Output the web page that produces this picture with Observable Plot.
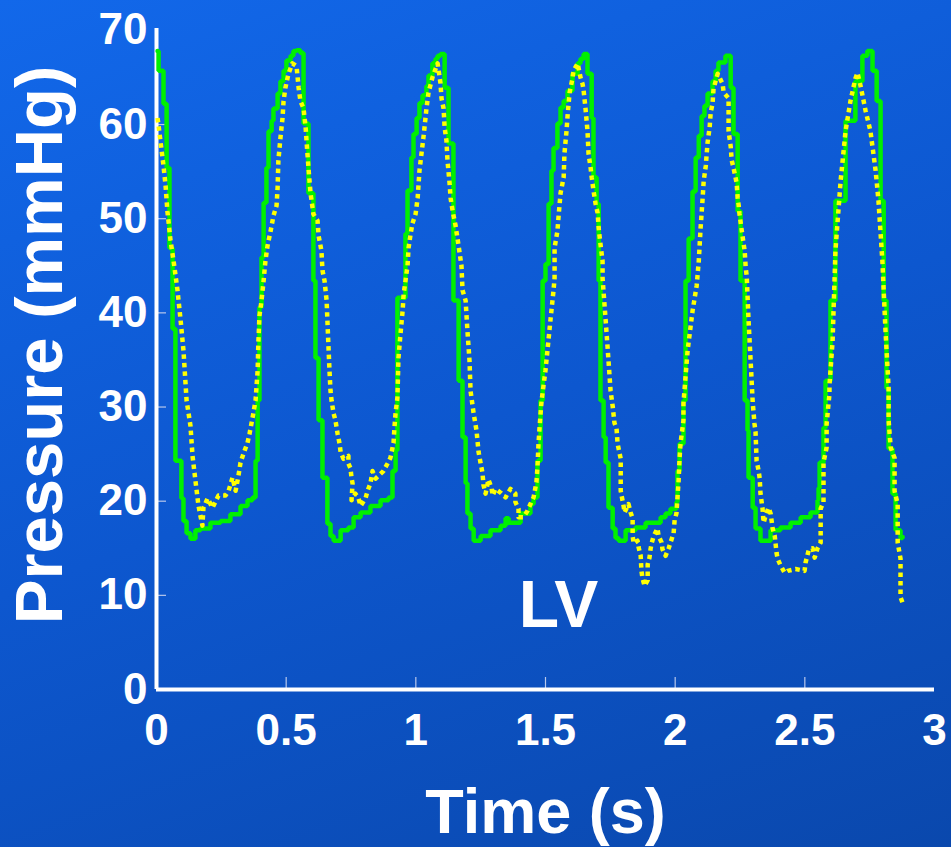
<!DOCTYPE html>
<html>
<head>
<meta charset="utf-8">
<script src="https://cdn.jsdelivr.net/npm/d3@7"></script>
<script src="https://cdn.jsdelivr.net/npm/@observablehq/plot@0.6"></script>
<style>
  html, body { margin: 0; padding: 0; }
  body {
    width: 951px; height: 847px; overflow: hidden;
    background: linear-gradient(160deg, #1268ea 0%, #0d57cf 50%, #0a48ad 100%);
    font-family: "Liberation Sans", Arial, sans-serif;
  }
  #chart svg { display: block; }
</style>
</head>
<body>
<div id="chart"></div>
<script>
// ---- tick labels ----
const xTicks = [0, 0.5, 1, 1.5, 2, 2.5, 3];
const yTicks = [0, 10, 20, 30, 40, 50, 60, 70];
const xInnerTicks = [0.5, 1, 1.5, 2, 2.5];
const yInnerTicks = [10, 20, 30, 40, 50, 60];
const xTitle = ["Time (s)"];
const yTitle = ["Pressure (mmHg)"];
const chamberLabel = ["LV"];
const chamberX = [1.55];
const chamberY = [8.9];

// ---- green series (stepped trace) ----
const greenTime = [
  0.004, 0.008, 0.027, 0.039, 0.050, 0.062, 0.073, 0.096, 0.104, 0.116, 0.131, 0.150, 0.170, 0.208, 0.247, 0.285, 0.324, 0.351, 0.370,
  0.382, 0.390, 0.397, 0.405, 0.413, 0.424, 0.432, 0.444, 0.451, 0.467, 0.478, 0.490, 0.501, 0.517, 0.528, 0.540,
  0.555, 0.567, 0.586, 0.605, 0.613, 0.625, 0.640, 0.659, 0.671, 0.683,
  0.710, 0.740, 0.760, 0.787, 0.825, 0.864, 0.895, 0.910, 0.922, 0.929, 0.960, 0.968, 0.983, 0.991, 1.003, 1.014, 1.026, 1.041, 1.049, 1.064, 1.076, 1.084, 1.095,
  1.111, 1.126, 1.145, 1.165, 1.180, 1.192, 1.199, 1.211, 1.223,
  1.250, 1.288, 1.327, 1.346, 1.358, 1.404, 1.442, 1.454, 1.469, 1.481, 1.489, 1.500, 1.512, 1.523, 1.531, 1.546, 1.558, 1.570, 1.585, 1.604, 1.624, 1.635, 1.647,
  1.662, 1.678, 1.685, 1.697, 1.705, 1.712, 1.724, 1.732, 1.743, 1.759, 1.770, 1.782,
  1.809, 1.847, 1.886, 1.944, 1.963, 1.982, 2.005, 2.009, 2.017, 2.032, 2.040, 2.052, 2.067, 2.079, 2.091, 2.102, 2.113, 2.125, 2.144, 2.156, 2.167, 2.194,
  2.214, 2.225, 2.241, 2.252, 2.268, 2.279, 2.283, 2.299, 2.310, 2.329,
  2.368, 2.406, 2.445, 2.484, 2.522, 2.549, 2.553, 2.557, 2.572, 2.580, 2.599, 2.618, 2.657, 2.695, 2.722, 2.741,
  2.761, 2.777, 2.792, 2.804, 2.815, 2.823, 2.838, 2.850, 2.869, 2.877
];
const greenPressure = [
  67.8, 65.7, 62.2, 55.4, 46.9, 38.3, 24.3, 20.3, 17.9, 16.6, 16.0, 16.9, 17.1, 17.7, 17.9, 18.6, 19.5, 20.1, 20.4,
  24.3, 30.7, 40.6, 45.9, 51.7, 55.4, 59.3, 60.4, 61.7, 63.3, 64.6, 65.7, 66.8, 67.3, 67.8, 67.9,
  67.6, 60.1, 52.7, 43.4, 35.2, 28.6, 22.5, 17.6, 16.3, 15.8,
  16.9, 17.2, 18.3, 18.8, 19.5, 20.1, 20.4, 23.2, 25.4, 41.6, 48.4, 53.0, 56.5, 59.0, 60.7, 62.3, 63.1, 64.1, 65.2, 66.5, 67.0, 67.3, 67.5,
  63.9, 58.0, 41.3, 32.8, 26.8, 21.9, 18.7, 17.1, 15.8,
  16.3, 16.9, 17.4, 18.2, 17.7, 18.7, 19.7, 20.4, 24.3, 30.7, 43.4, 45.2, 51.6, 55.1, 57.5, 60.1, 61.8, 62.5, 63.6, 65.4, 66.5, 67.0, 67.5,
  65.4, 60.7, 54.4, 51.6, 43.4, 30.7, 26.8, 24.1, 19.3, 17.1, 16.1, 15.8,
  16.9, 17.2, 17.7, 18.3, 18.7, 19.2, 19.9, 23.2, 26.1, 30.7, 43.4, 47.9, 52.9, 56.5, 58.8, 60.9, 62.0, 63.3, 64.6, 65.7, 66.6, 67.3,
  63.9, 59.0, 50.8, 43.4, 30.7, 27.5, 22.5, 19.3, 17.1, 15.8,
  16.9, 17.2, 17.7, 18.3, 18.8, 20.1, 21.4, 24.1, 27.8, 32.8, 41.3, 51.9, 60.4, 64.6, 67.3, 67.8,
  65.7, 62.5, 51.9, 41.3, 32.0, 25.6, 20.8, 16.9, 16.1, 16.2
];

// ---- yellow series (dotted trace) ----
const yellowTime = [
  0.004, 0.008, 0.015, 0.027, 0.035, 0.042, 0.054, 0.066, 0.081, 0.093, 0.104, 0.116, 0.131, 0.139, 0.150, 0.162, 0.177,
  0.181, 0.197, 0.216, 0.239, 0.266, 0.278, 0.293, 0.305, 0.316, 0.324, 0.336, 0.351, 0.359, 0.370, 0.382, 0.390, 0.393, 0.397,
  0.405, 0.413, 0.420, 0.428, 0.440, 0.451, 0.463, 0.467, 0.470, 0.478, 0.486, 0.490, 0.497, 0.509, 0.524, 0.540,
  0.548, 0.555, 0.567, 0.575, 0.582, 0.586, 0.594, 0.605, 0.621, 0.625, 0.636, 0.640, 0.648, 0.656, 0.659, 0.663, 0.667, 0.671, 0.675,
  0.683, 0.690, 0.698, 0.706, 0.710, 0.721, 0.740, 0.740, 0.748, 0.752, 0.756, 0.752, 0.767, 0.779, 0.787, 0.806, 0.814, 0.825, 0.833,
  0.845, 0.856, 0.875, 0.891, 0.902, 0.914, 0.918, 0.922, 0.929, 0.933, 0.941, 0.949, 0.953, 0.960, 0.968, 0.972, 0.980, 0.987, 0.999,
  1.007, 1.014, 1.030, 1.041, 1.049, 1.064, 1.076, 1.084,
  1.095, 1.099, 1.107, 1.111, 1.118, 1.122, 1.130, 1.134, 1.142, 1.153, 1.165, 1.176, 1.180, 1.192, 1.199, 1.207, 1.211, 1.223, 1.234,
  1.242, 1.250, 1.257, 1.261, 1.269, 1.280, 1.292, 1.296, 1.307, 1.327, 1.346, 1.354, 1.365, 1.384, 1.384, 1.396, 1.396, 1.415, 1.431,
  1.442, 1.454, 1.465, 1.469, 1.473, 1.477, 1.481, 1.485, 1.500, 1.519, 1.531,
  1.535, 1.535, 1.546, 1.550, 1.558, 1.570, 1.573, 1.581, 1.585, 1.593, 1.604, 1.608, 1.624,
  1.635, 1.643, 1.647, 1.654, 1.662, 1.666, 1.674, 1.678, 1.685, 1.693, 1.701, 1.705, 1.712, 1.720, 1.720, 1.732, 1.743, 1.751,
  1.759, 1.766, 1.774, 1.778, 1.790, 1.790, 1.801, 1.805, 1.820, 1.828, 1.836, 1.836, 1.840, 1.855, 1.859, 1.867, 1.870, 1.874, 1.882,
  1.894, 1.894, 1.901, 1.905, 1.909, 1.917, 1.932, 1.936, 1.948, 1.951, 1.963, 1.975, 1.982, 1.994, 1.998, 2.005, 2.009, 2.013, 2.017,
  2.021, 2.032, 2.032, 2.048, 2.067, 2.083,
  2.091, 2.098, 2.106, 2.110, 2.118, 2.125, 2.133, 2.137, 2.144, 2.148, 2.156, 2.164,
  2.171, 2.183, 2.187, 2.206, 2.206, 2.214, 2.218, 2.225, 2.237, 2.241, 2.245, 2.248, 2.256, 2.264, 2.268, 2.272, 2.276, 2.283, 2.291,
  2.299, 2.306, 2.310, 2.314, 2.322, 2.326, 2.329, 2.337, 2.341, 2.349, 2.360, 2.368, 2.376, 2.384, 2.391, 2.395, 2.406, 2.422, 2.434,
  2.464, 2.499, 2.503, 2.515, 2.530, 2.538, 2.549, 2.561, 2.561, 2.572, 2.572, 2.584, 2.584, 2.595, 2.595,
  2.607, 2.618, 2.638, 2.657, 2.676, 2.695, 2.703,
  2.715, 2.734, 2.753, 2.773, 2.784, 2.799, 2.811, 2.823, 2.823, 2.831, 2.846, 2.846, 2.858, 2.858, 2.869, 2.869, 2.881
];
const yellowPressure = [
  60.7, 59.9, 58.3, 55.6, 53.5, 50.8, 47.7, 45.5, 42.4, 39.2, 36.0, 30.7, 28.0, 24.8, 22.2, 19.5, 17.4,
  19.3, 20.3, 19.3, 20.6, 20.6, 21.1, 22.5, 21.1, 22.7, 24.1, 25.1, 26.2, 27.2, 28.8, 30.7, 33.9, 37.0, 39.7,
  41.3, 43.4, 45.5, 47.1, 48.7, 50.3, 51.4, 53.3, 56.2, 58.6, 60.7, 62.5, 63.9, 65.4, 66.5, 66.2,
  63.9, 62.5, 61.7, 59.7, 56.9, 55.4, 52.7, 50.5, 49.8, 48.2, 46.6, 44.5, 43.4, 41.3, 39.2, 36.5, 33.9, 31.7, 30.7,
  29.3, 28.6, 27.2, 26.1, 25.2, 24.5, 24.8, 24.0, 23.5, 22.5, 21.9, 20.1, 20.8, 20.3, 19.5, 20.3, 21.1, 21.9, 23.2,
  22.4, 22.7, 23.2, 24.0, 24.6, 26.2, 28.0, 29.4, 31.0, 35.2, 37.8, 40.2, 42.0, 43.4, 45.0, 46.9, 48.4, 49.5, 50.5,
  52.2, 55.1, 58.8, 61.7, 63.4, 65.0, 65.9, 66.5,
  64.4, 62.8, 61.7, 59.7, 58.3, 56.2, 53.8, 52.2, 50.8, 49.3, 47.1, 45.0, 42.4, 41.3, 38.1, 34.9, 31.7, 29.3, 27.5,
  25.2, 24.0, 23.0, 21.7, 20.8, 22.3, 21.4, 20.6, 21.3, 20.9, 20.4, 20.8, 21.3, 20.8, 19.9, 19.2, 18.3, 18.3, 19.0,
  19.7, 20.4, 22.0, 23.6, 26.1, 27.8, 29.3, 30.7, 33.9, 39.2, 42.4,
  43.7, 46.9, 48.7, 50.1, 52.7, 54.4, 56.9, 59.3, 60.9, 63.4, 64.9, 65.7, 66.5,
  65.0, 64.3, 63.6, 61.8, 59.3, 56.9, 55.4, 54.4, 53.0, 51.6, 50.6, 49.0, 47.3, 45.5, 43.7, 39.2, 34.9, 31.7,
  30.1, 28.3, 27.7, 26.1, 24.5, 21.1, 19.5, 18.8, 19.7, 18.8, 18.2, 16.3, 15.5, 15.8, 15.1, 14.2, 12.6, 11.8, 11.0,
  11.6, 13.3, 14.0, 14.9, 15.5, 16.3, 17.1, 16.3, 15.6, 14.9, 14.2, 15.0, 15.6, 16.6, 18.0, 18.7, 20.4, 22.0, 24.6,
  26.2, 28.6, 30.4, 36.0, 40.2, 42.9,
  45.5, 49.0, 52.2, 54.0, 55.6, 58.1, 59.7, 61.3, 62.2, 63.8, 64.6, 65.4,
  65.0, 64.3, 63.4, 62.8, 59.3, 57.7, 56.2, 55.4, 53.8, 52.2, 51.4, 50.5, 48.9, 47.3, 46.6, 44.8, 43.9, 39.2, 34.9,
  30.5, 28.2, 27.3, 24.3, 23.2, 22.4, 20.8, 19.2, 17.7, 18.5, 19.3, 18.7, 17.1, 16.3, 14.5, 13.9, 13.2, 12.4, 12.6,
  12.8, 12.6, 13.5, 14.8, 15.0, 14.0, 15.0, 15.6, 19.2, 19.9, 24.1, 25.7, 28.2, 31.4, 32.3,
  37.0, 46.6, 54.0, 59.3, 62.5, 64.9, 65.5,
  64.1, 61.5, 59.3, 55.1, 51.9, 45.5, 38.1, 32.1, 28.6, 25.7, 24.6, 21.1, 19.7, 15.6, 13.9, 9.8, 8.9
];

const font = "'Liberation Sans', Arial, Helvetica, sans-serif";

const chart = Plot.plot({
  width: 951,
  height: 847,
  marginLeft: 156,
  marginRight: 17,
  marginTop: 28,
  marginBottom: 158,
  x: {domain: [0, 3]},
  y: {domain: [0, 70.2]},
  style: {background: "transparent", color: "white", fontFamily: font, overflow: "visible"},
  marks: [
    // inner tick marks
    Plot.axisX(xInnerTicks, {anchor: "bottom", tickSize: 12, dy: -12, text: null, stroke: "#b9c8ec", strokeWidth: 1.2}),
    Plot.axisY(yInnerTicks, {anchor: "left", tickSize: 10, dx: 10, text: null, stroke: "#b9c8ec", strokeWidth: 1.2}),
    // tick labels
    Plot.axisX(xTicks, {anchor: "bottom", tickSize: 0, tickPadding: 24, label: null, tickFormat: d => String(d),
      fontSize: 44, fontWeight: "bold", fill: "white", fontFamily: font}),
    Plot.axisY(yTicks, {anchor: "left", tickSize: 0, tickPadding: 9, label: null, tickFormat: d => String(d),
      fontSize: 44, fontWeight: "bold", fill: "white", fontFamily: font}),
    // axis lines
    Plot.ruleY([0], {stroke: "white", strokeWidth: 4}),
    Plot.ruleX([0], {stroke: "white", strokeWidth: 4}),
    // traces
    Plot.line(greenPressure, {x: greenTime, y: greenPressure, curve: "step-after",
      stroke: "#00f000", strokeWidth: 4.5, strokeLinejoin: "miter"}),
    Plot.line(yellowPressure, {x: yellowTime, y: yellowPressure,
      stroke: "#ffff00", strokeWidth: 4.5, strokeDasharray: "4.5,4", strokeLinecap: "butt"}),
    // titles & label
    Plot.text(chamberLabel, {x: chamberX, y: chamberY, text: d => d, fill: "white",
      fontSize: 66, fontWeight: "bold", fontFamily: font, lineAnchor: "middle"}),
    Plot.text(xTitle, {frameAnchor: "bottom", text: d => d, dy: 123, fill: "white",
      fontSize: 63, fontWeight: "bold", fontFamily: font, lineAnchor: "middle", textAnchor: "middle"}),
    Plot.text(yTitle, {frameAnchor: "left", text: d => d, rotate: -90, dx: -116, dy: -14, fill: "white",
      fontSize: 67, fontWeight: "bold", fontFamily: font, lineAnchor: "middle", textAnchor: "middle"})
  ]
});
document.getElementById("chart").append(chart);
</script>
</body>
</html>
